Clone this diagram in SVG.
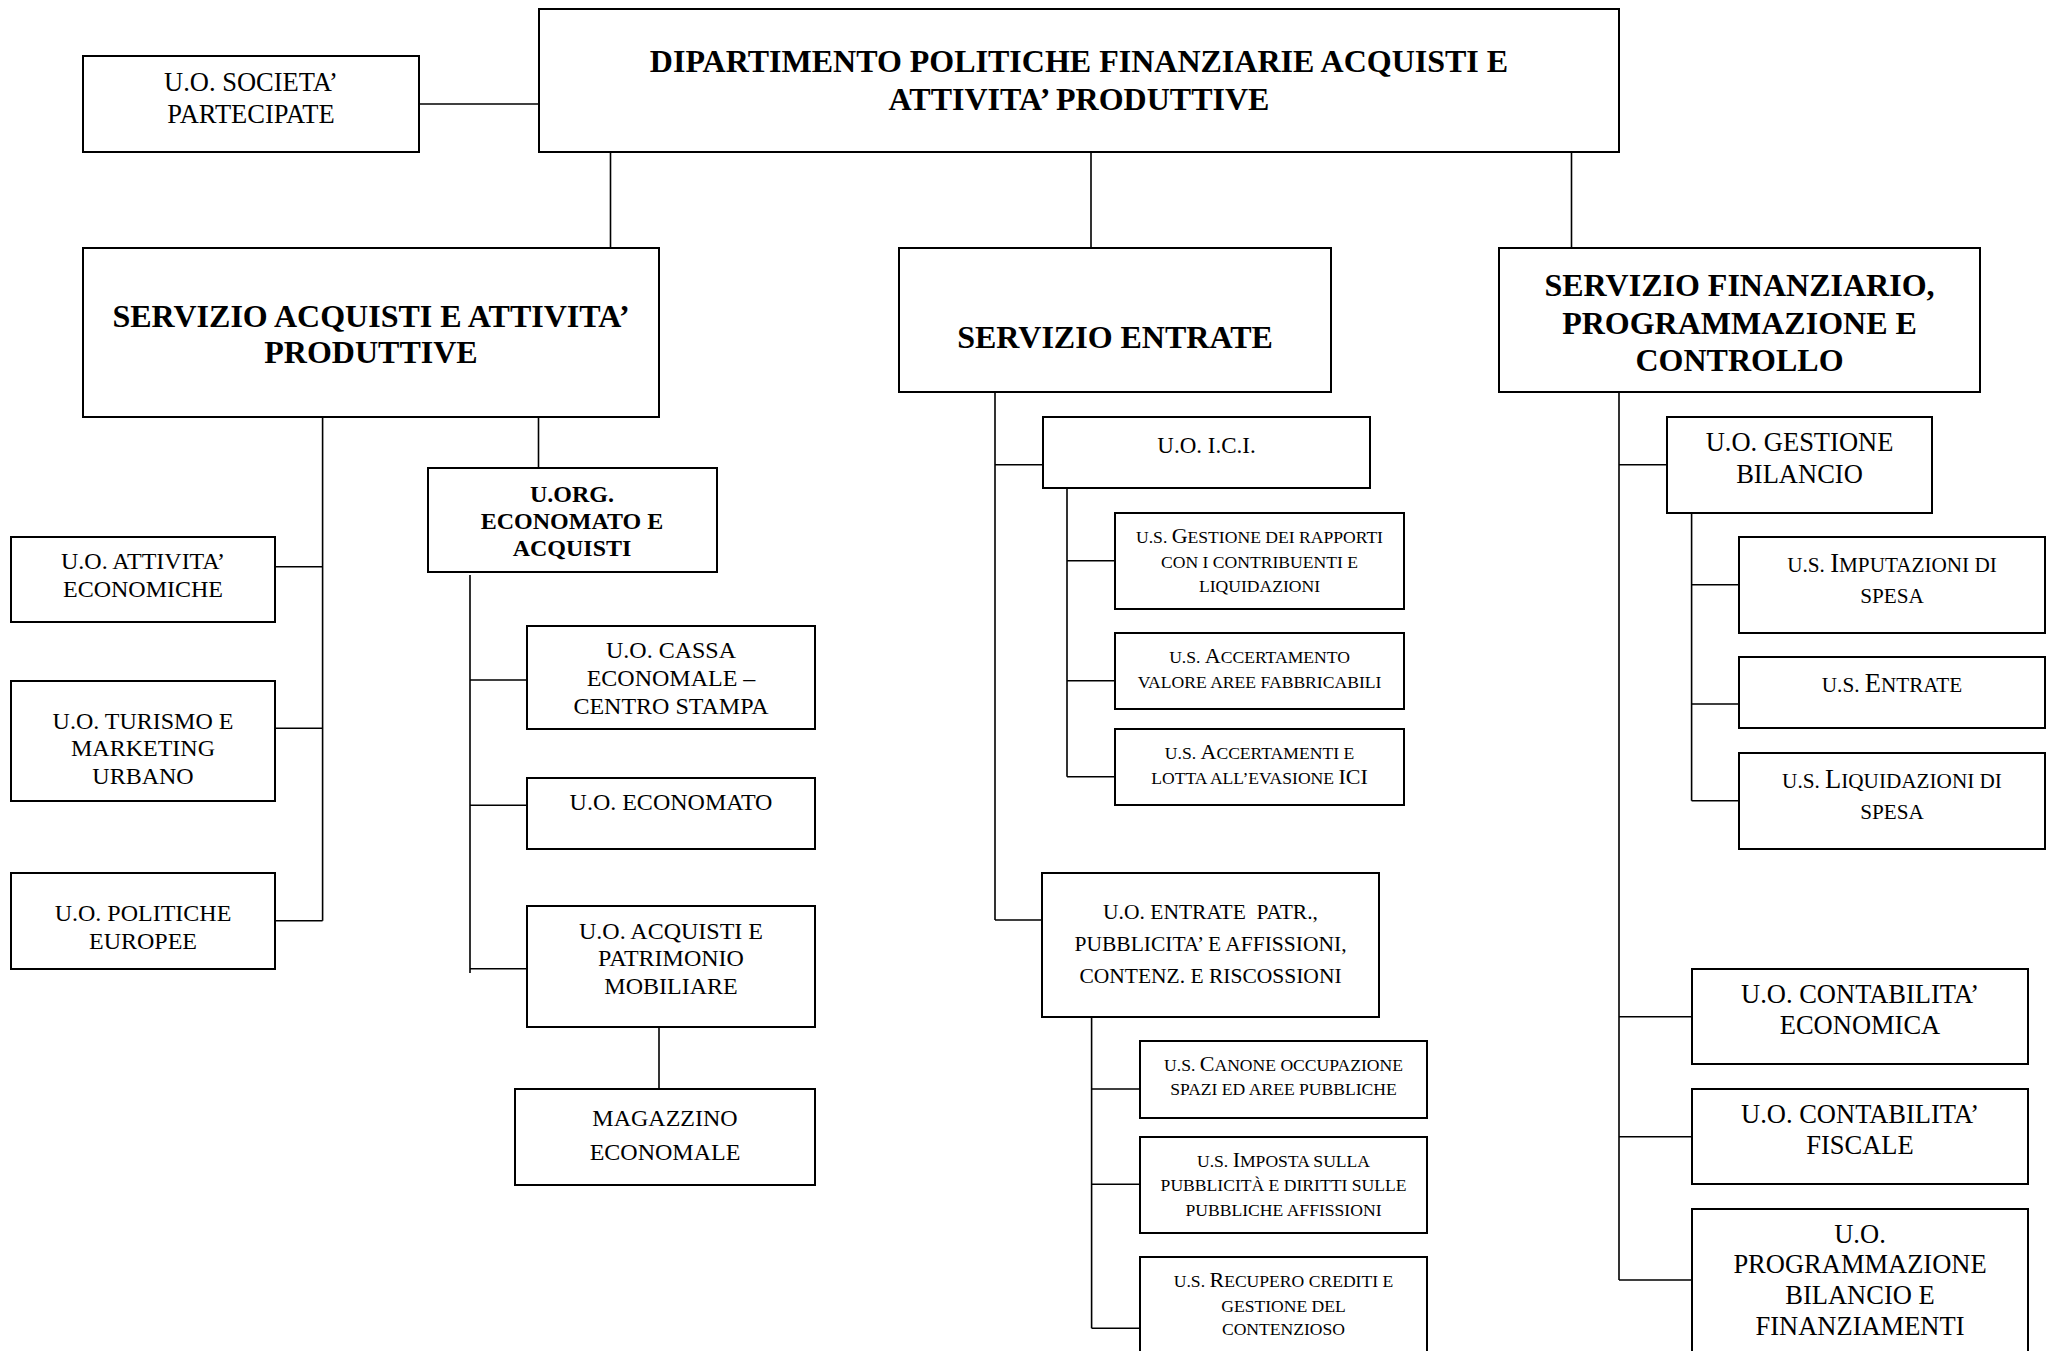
<svg xmlns="http://www.w3.org/2000/svg" width="2056" height="1351" viewBox="0 0 2056 1351">
<style>
.box{fill:#fff;stroke:#000;stroke-width:2}
.conn path{fill:none;stroke:#000;stroke-width:1.6}
text{font-family:"Liberation Serif","Times New Roman",serif;fill:#000;text-anchor:middle}
.b32{font-weight:bold;font-size:32px}
.b24{font-weight:bold;font-size:24px}
.r26{font-size:26.5px}
.r24{font-size:24px}
.r23{font-size:23px}
.r21{font-size:21.5px}
.m{font-size:22px}
.ms{font-size:17.6px}
.rt{font-size:26.5px}
.rs{font-size:21.2px}
.pre{white-space:pre}
</style>
<rect width="2056" height="1351" fill="#fff"/>
<g class="conn" id="connectors">
<path d="M419,104H539"/>
<path d="M610.5,152V248M1091,152V248M1571.5,152V248"/>
<path d="M322.6,417V920.7M275,566.7H322.6M275,728.3H322.6M275,920.7H322.6"/>
<path d="M538.5,417V468"/>
<path d="M470,575V973M470,680H527M470,805.3H527M470,968.7H527"/>
<path d="M659,1027V1089"/>
<path d="M995,392V920M995,464.7H1043M995,920H1042"/>
<path d="M1067,488V776.7M1067,560.7H1115M1067,680.7H1115M1067,776.7H1115"/>
<path d="M1091.6,1017V1328.3M1091.6,1089H1140M1091.6,1184.3H1140M1091.6,1328.3H1140"/>
<path d="M1619,392V1280M1619,464.7H1667M1619,1016.7H1692M1619,1136.7H1692M1619,1280H1692"/>
<path d="M1691.6,513V800.7M1691.6,584.7H1739M1691.6,704H1739M1691.6,800.7H1739"/>
</g>
<g id="dept">
<rect class="box" x="539" y="9" width="1080" height="143"/>
<text class="b32" x="1079" y="72">DIPARTIMENTO POLITICHE FINANZIARIE ACQUISTI E</text>
<text class="b32" x="1079" y="110">ATTIVITA’ PRODUTTIVE</text>
</g>
<g id="uo-societa">
<rect class="box" x="83" y="56" width="336" height="96"/>
<text class="r26" x="251" y="90.5">U.O. SOCIETA’</text>
<text class="r26" x="251" y="122.5">PARTECIPATE</text>
</g>
<g id="serv-acquisti">
<rect class="box" x="83" y="248" width="576" height="169"/>
<text class="b32" x="371" y="327">SERVIZIO ACQUISTI E ATTIVITA’</text>
<text class="b32" x="371" y="363">PRODUTTIVE</text>
</g>
<g id="serv-entrate">
<rect class="box" x="899" y="248" width="432" height="144"/>
<text class="b32" x="1115" y="348">SERVIZIO ENTRATE</text>
</g>
<g id="serv-finanziario">
<rect class="box" x="1499" y="248" width="481" height="144"/>
<text class="b32" x="1739.5" y="296">SERVIZIO FINANZIARIO,</text>
<text class="b32" x="1739.5" y="333.5">PROGRAMMAZIONE E</text>
<text class="b32" x="1739.5" y="371">CONTROLLO</text>
</g>
<g id="uo-attivita">
<rect class="box" x="11" y="537" width="264" height="85"/>
<text class="r24" x="143" y="568.5">U.O. ATTIVITA’</text>
<text class="r24" x="143" y="596.5">ECONOMICHE</text>
</g>
<g id="uo-turismo">
<rect class="box" x="11" y="681" width="264" height="120"/>
<text class="r24" x="143" y="728.5">U.O. TURISMO E</text>
<text class="r24" x="143" y="756">MARKETING</text>
<text class="r24" x="143" y="783.5">URBANO</text>
</g>
<g id="uo-politiche">
<rect class="box" x="11" y="873" width="264" height="96"/>
<text class="r24" x="143" y="920.5">U.O. POLITICHE</text>
<text class="r24" x="143" y="948.5">EUROPEE</text>
</g>
<g id="uorg-economato">
<rect class="box" x="428" y="468" width="289" height="104"/>
<text class="b24" x="572" y="501.5">U.ORG.</text>
<text class="b24" x="572" y="528.5">ECONOMATO E</text>
<text class="b24" x="572" y="556">ACQUISTI</text>
</g>
<g id="uo-cassa">
<rect class="box" x="527" y="626" width="288" height="103"/>
<text class="r24" x="671" y="657.5">U.O. CASSA</text>
<text class="r24" x="671" y="686">ECONOMALE –</text>
<text class="r24" x="671" y="714">CENTRO STAMPA</text>
</g>
<g id="uo-economato">
<rect class="box" x="527" y="778" width="288" height="71"/>
<text class="r24" x="671" y="809.5">U.O. ECONOMATO</text>
</g>
<g id="uo-acquisti-patrimonio">
<rect class="box" x="527" y="906" width="288" height="121"/>
<text class="r24" x="671" y="938.5">U.O. ACQUISTI E</text>
<text class="r24" x="671" y="966">PATRIMONIO</text>
<text class="r24" x="671" y="993.5">MOBILIARE</text>
</g>
<g id="magazzino">
<rect class="box" x="515" y="1089" width="300" height="96"/>
<text class="r24" x="665" y="1125.5">MAGAZZINO</text>
<text class="r24" x="665" y="1159.5">ECONOMALE</text>
</g>
<g id="uo-ici">
<rect class="box" x="1043" y="417" width="327" height="71"/>
<text class="r23" x="1206.5" y="452.5">U.O. I.C.I.</text>
</g>
<g id="us-gestione-rapporti">
<rect class="box" x="1115" y="513" width="289" height="96"/>
<text class="m" x="1259.5" y="542.5"><tspan class="ms">U.S. </tspan>G<tspan class="ms">ESTIONE DEI RAPPORTI</tspan></text>
<text class="ms" x="1259.5" y="567.5">CON I CONTRIBUENTI E</text>
<text class="ms" x="1259.5" y="592">LIQUIDAZIONI</text>
</g>
<g id="us-accertamento">
<rect class="box" x="1115" y="633" width="289" height="76"/>
<text class="m" x="1259.5" y="663"><tspan class="ms">U.S. </tspan>A<tspan class="ms">CCERTAMENTO</tspan></text>
<text class="ms" x="1259.5" y="688">VALORE AREE FABBRICABILI</text>
</g>
<g id="us-accertamenti">
<rect class="box" x="1115" y="729" width="289" height="76"/>
<text class="m" x="1259.5" y="759"><tspan class="ms">U.S. </tspan>A<tspan class="ms">CCERTAMENTI E</tspan></text>
<text class="m" x="1259.5" y="784"><tspan class="ms">LOTTA ALL’EVASIONE </tspan>ICI</text>
</g>
<g id="uo-entrate-patr">
<rect class="box" x="1042" y="873" width="337" height="144"/>
<text class="r21 pre" x="1210.5" y="919">U.O. ENTRATE  PATR.,</text>
<text class="r21" x="1210.5" y="951">PUBBLICITA’ E AFFISSIONI,</text>
<text class="r21" x="1210.5" y="983">CONTENZ. E RISCOSSIONI</text>
</g>
<g id="us-canone">
<rect class="box" x="1140" y="1041" width="287" height="77"/>
<text class="m" x="1283.5" y="1070.5"><tspan class="ms">U.S. </tspan>C<tspan class="ms">ANONE OCCUPAZIONE</tspan></text>
<text class="ms" x="1283.5" y="1095">SPAZI ED AREE PUBBLICHE</text>
</g>
<g id="us-imposta">
<rect class="box" x="1140" y="1137" width="287" height="96"/>
<text class="m" x="1283.5" y="1166.5"><tspan class="ms">U.S. </tspan>I<tspan class="ms">MPOSTA SULLA</tspan></text>
<text class="ms" x="1283.5" y="1191">PUBBLICITÀ E DIRITTI SULLE</text>
<text class="ms" x="1283.5" y="1215.5">PUBBLICHE AFFISSIONI</text>
</g>
<g id="us-recupero">
<rect class="box" x="1140" y="1257" width="287" height="110"/>
<text class="m" x="1283.5" y="1287"><tspan class="ms">U.S. </tspan>R<tspan class="ms">ECUPERO CREDITI E</tspan></text>
<text class="ms" x="1283.5" y="1311.5">GESTIONE DEL</text>
<text class="ms" x="1283.5" y="1335">CONTENZIOSO</text>
</g>
<g id="uo-gestione-bilancio">
<rect class="box" x="1667" y="417" width="265" height="96"/>
<text class="r26" x="1799.5" y="450.5">U.O. GESTIONE</text>
<text class="r26" x="1799.5" y="482.5">BILANCIO</text>
</g>
<g id="us-imputazioni">
<rect class="box" x="1739" y="537" width="306" height="96"/>
<text class="rt" x="1892" y="572"><tspan class="rs">U.S. </tspan>I<tspan class="rs">MPUTAZIONI DI</tspan></text>
<text class="rs" x="1892" y="603">SPESA</text>
</g>
<g id="us-entrate">
<rect class="box" x="1739" y="657" width="306" height="71"/>
<text class="rt" x="1892" y="692"><tspan class="rs">U.S. </tspan>E<tspan class="rs">NTRATE</tspan></text>
</g>
<g id="us-liquidazioni">
<rect class="box" x="1739" y="753" width="306" height="96"/>
<text class="rt" x="1892" y="788"><tspan class="rs">U.S. </tspan>L<tspan class="rs">IQUIDAZIONI DI</tspan></text>
<text class="rs" x="1892" y="819">SPESA</text>
</g>
<g id="uo-contabilita-economica">
<rect class="box" x="1692" y="969" width="336" height="95"/>
<text class="r26" x="1860" y="1003">U.O. CONTABILITA’</text>
<text class="r26" x="1860" y="1034">ECONOMICA</text>
</g>
<g id="uo-contabilita-fiscale">
<rect class="box" x="1692" y="1089" width="336" height="95"/>
<text class="r26" x="1860" y="1122.5">U.O. CONTABILITA’</text>
<text class="r26" x="1860" y="1153.5">FISCALE</text>
</g>
<g id="uo-programmazione">
<rect class="box" x="1692" y="1209" width="336" height="160"/>
<text class="r26" x="1860" y="1242.5">U.O.</text>
<text class="r26" x="1860" y="1273">PROGRAMMAZIONE</text>
<text class="r26" x="1860" y="1304">BILANCIO E</text>
<text class="r26" x="1860" y="1334.5">FINANZIAMENTI</text>
</g>
</svg>
